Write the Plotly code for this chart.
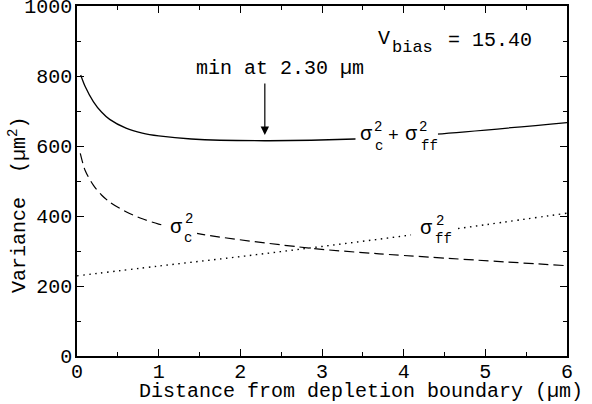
import plotly.graph_objects as go

# Data
x_total = [0.045, 0.1, 0.2, 0.3, 0.4, 0.6, 0.8, 1.0, 1.4, 2.3, 3.4, 4.4, 6.0]
var_total = [803, 770, 727, 697, 676, 651, 637, 629, 620, 615, 620, 634, 667]

x_c = [0.04, 0.1, 0.2, 0.3, 0.4, 0.6, 0.8, 1.0, 1.5, 2.86, 3.7, 6.0]
var_c = [579, 530, 488, 460, 440, 412, 392, 377, 349, 308, 292, 258]

x_ff = [0, 1, 2, 3, 4, 5, 6]
var_ff = [229, 257, 284, 313, 343, 375, 408]

FONT = "Liberation Mono"
fs = 20

fig = go.Figure()
fig.add_trace(go.Scatter(x=x_total, y=var_total, mode="lines",
                         line=dict(color="black", width=1.3, shape="spline", smoothing=0.8)))
fig.add_trace(go.Scatter(x=x_c, y=var_c, mode="lines",
                         line=dict(color="black", width=1.2, shape="spline", smoothing=0.8,
                                   dash="10px,5px")))
fig.add_trace(go.Scatter(x=x_ff, y=var_ff, mode="lines",
                         line=dict(color="black", width=1.4, shape="spline",
                                   dash="1.5px,4.5px")))

# white masks behind curve labels
for x0, x1, y0, y1 in [(3.41, 4.42, 589, 651), (1.08, 1.47, 326, 389), (4.09, 4.66, 320, 383)]:
    fig.add_shape(type="rect", xref="x", yref="y", x0=x0, x1=x1, y0=y0, y1=y1,
                  fillcolor="white", line=dict(width=0), layer="above")

def px2x(px):
    return (px - 77) / 81.6

def py2y(py):
    return (356 - py) / 0.35

anns = []
def txt(px, py, s, size=fs, xanchor="center"):
    anns.append(dict(x=px2x(px), y=py2y(py), xref="x", yref="y", text=s, showarrow=False,
                     font=dict(family=FONT, size=size, color="black"), xanchor=xanchor,
                     yanchor="middle"))

# sigma_c^2 + sigma_ff^2
txt(366, 134, "σ")
txt(378, 127, "2", 14)
txt(379, 146, "c", 14)
txt(393, 136, "+", 18)
txt(411, 134, "σ")
txt(423, 127, "2", 14)
txt(429, 146, "ff", 14)
# sigma_c^2
txt(176, 227, "σ")
txt(189, 219, "2", 14)
txt(188, 238, "c", 14)
# sigma_ff^2
txt(426, 228, "σ")
txt(440, 221, "2", 14)
txt(443, 239, "ff", 14)
# V_bias
txt(384, 38, "V")
txt(412, 47, "bias", 17)
txt(490, 40, "= 15.40")
# min annotation
txt(280, 68, "min at 2.30 µm")
anns.append(dict(x=2.3, y=py2y(135), ax=2.3, ay=py2y(82), xref="x", yref="y",
                 axref="x", ayref="y", showarrow=True, arrowhead=2, arrowsize=1.4,
                 arrowwidth=1.2, arrowcolor="black", text="", standoff=0))
# axis titles
anns.append(dict(x=(361 - 77) / 490, y=-(392 - 356) / 350, xref="paper", yref="paper",
                 text="Distance from depletion boundary (µm)", showarrow=False,
                 font=dict(family=FONT, size=fs, color="black"), xanchor="center",
                 yanchor="middle"))
anns.append(dict(x=(18 - 77) / 490, y=(356 - 205) / 350, xref="paper", yref="paper",
                 text="Variance  (µm<sup>2</sup>)", showarrow=False, textangle=-90,
                 font=dict(family=FONT, size=fs, color="black"), xanchor="center",
                 yanchor="middle"))

axis_common = dict(showgrid=False, zeroline=False, showline=True, linecolor="black",
                   linewidth=1.5, mirror="ticks", ticks="inside", ticklen=7, tickwidth=1.2,
                   tickcolor="black", tickfont=dict(family=FONT, size=fs, color="black"),
                   automargin=False, ticklabeloverflow="allow")

fig.update_layout(
    width=592, height=404,
    margin=dict(l=77, r=25, t=6, b=48, autoexpand=False),
    paper_bgcolor="white", plot_bgcolor="white",
    showlegend=False,
    annotations=anns,
    xaxis=dict(range=[0, 6], dtick=1, tick0=0,
               minor=dict(dtick=0.5, ticklen=4, ticks="inside", tickcolor="black", tickwidth=1.2),
               ticklabelstandoff=-4, **axis_common),
    yaxis=dict(range=[0, 1000], dtick=200, tick0=0,
               minor=dict(dtick=100, ticklen=4, ticks="inside", tickcolor="black", tickwidth=1.2),
               ticklabelstandoff=-1, **axis_common),
)

fig.write_html("out.html", config={"displayModeBar": False},
               post_script="document.body.style.margin='0';")
